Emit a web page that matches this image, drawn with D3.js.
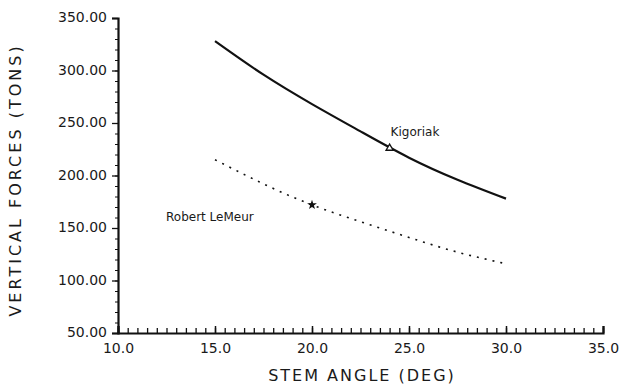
<!DOCTYPE html>
<html>
<head>
<meta charset="UTF-8" />
<title>vertical forces vs stem angle</title>
<script src="https://d3js.org/d3.v7.min.js"></script>
<style>
  body { margin: 0; background: #fff; }
  text { font-family: "DejaVu Sans", sans-serif; fill: #1a1a1a; }
</style>
</head>
<body>
<svg id="chart" width="619" height="390"></svg>
<script>
// data
var angles = [15, 17.5, 20, 22.5, 25, 27.5, 30]
var kigoriak = [328, 296, 268, 242, 217, 196, 178]
var lemeur = [215, 192, 172, 156, 141, 127, 116]
var kigoriakPoint = [24, 226]
var lemeurPoint = [20, 172]
var xTicks = [10, 15, 20, 25, 30, 35]
var yTicks = [50, 100, 150, 200, 250, 300, 350]

var svg = d3.select("#chart")
var ink = "#111"

var x = d3.scaleLinear().domain([10, 35]).range([118, 603])
var y = d3.scaleLinear().domain([50, 350]).range([333, 18])

// y axis, ticks on left
var yAxis = d3.axisLeft(y).tickValues(yTicks).tickFormat(d3.format(".2f")).tickSize(6).tickPadding(5)
var yG = svg.append("g").attr("transform", "translate(118,0)").call(yAxis)
yG.select(".domain").attr("stroke", ink).attr("stroke-width", 2.2)
yG.selectAll(".tick line").attr("stroke", ink).attr("stroke-width", 1.3)
yG.selectAll(".tick text").style("font-size", "14px").attr("fill", "#222").attr("dy", "0.25em")
var yMinor = d3.axisLeft(y).tickValues(d3.range(50, 351, 10)).tickFormat("").tickSize(3)
var ym = svg.append("g").attr("transform", "translate(118,0)").call(yMinor)
ym.select(".domain").remove()
ym.selectAll(".tick line").attr("stroke", ink)

// x axis, ticks point up into the plot
var xAxis = d3.axisBottom(x).tickValues(xTicks).tickFormat(d3.format(".1f")).tickSize(-7).tickPadding(10)
var xG = svg.append("g").attr("transform", "translate(0,333)").call(xAxis)
xG.select(".domain").attr("stroke", ink).attr("stroke-width", 2.2)
xG.selectAll(".tick line").attr("stroke", ink).attr("stroke-width", 1.5)
xG.selectAll(".tick text").style("font-size", "14px").attr("fill", "#222")
var xMinor = d3.axisBottom(x).tickValues(d3.range(10, 35.01, 0.5)).tickFormat("").tickSize(-5)
var xm = svg.append("g").attr("transform", "translate(0,333)").call(xMinor)
xm.select(".domain").remove()
xm.selectAll(".tick line").attr("stroke", ink).attr("stroke-width", 1.3)

// axis titles
svg.append("text").attr("x", 362).attr("y", 381).attr("text-anchor", "middle")
  .style("font-size", "16px").style("letter-spacing", "2px").text("STEM ANGLE  (DEG)")
svg.append("text").attr("transform", "translate(21,180) rotate(-90)").attr("text-anchor", "middle")
  .style("font-size", "16px").style("letter-spacing", "3px").text("VERTICAL  FORCES  (TONS)")

// curves
var line = d3.line().x(d => x(d[0])).y(d => y(d[1])).curve(d3.curveNatural)
svg.append("path").attr("d", line(d3.zip(angles, kigoriak)))
  .attr("fill", "none").attr("stroke", ink).attr("stroke-width", 2.2)
svg.append("path").attr("d", line(d3.zip(angles, lemeur)))
  .attr("fill", "none").attr("stroke", ink).attr("stroke-width", 1.6).attr("stroke-dasharray", "2,6")

// markers
svg.append("path").attr("d", d3.symbol(d3.symbolTriangle, 22)())
  .attr("transform", `translate(${x(kigoriakPoint[0])},${y(kigoriakPoint[1])})`)
  .attr("fill", "#fff").attr("stroke", ink).attr("stroke-width", 1.3)
svg.append("path").attr("d", d3.symbol(d3.symbolStar, 30)())
  .attr("transform", `translate(${x(lemeurPoint[0])},${y(lemeurPoint[1])})`)
  .attr("fill", ink)

// labels
svg.append("text").attr("x", x(kigoriakPoint[0]) + 1).attr("y", y(kigoriakPoint[1]) - 12)
  .style("font-size", "12px").text("Kigoriak")
svg.append("text").attr("x", x(lemeurPoint[0]) - 146).attr("y", y(lemeurPoint[1]) + 16)
  .style("font-size", "12px").text("Robert  LeMeur")
</script>
</body>
</html>
